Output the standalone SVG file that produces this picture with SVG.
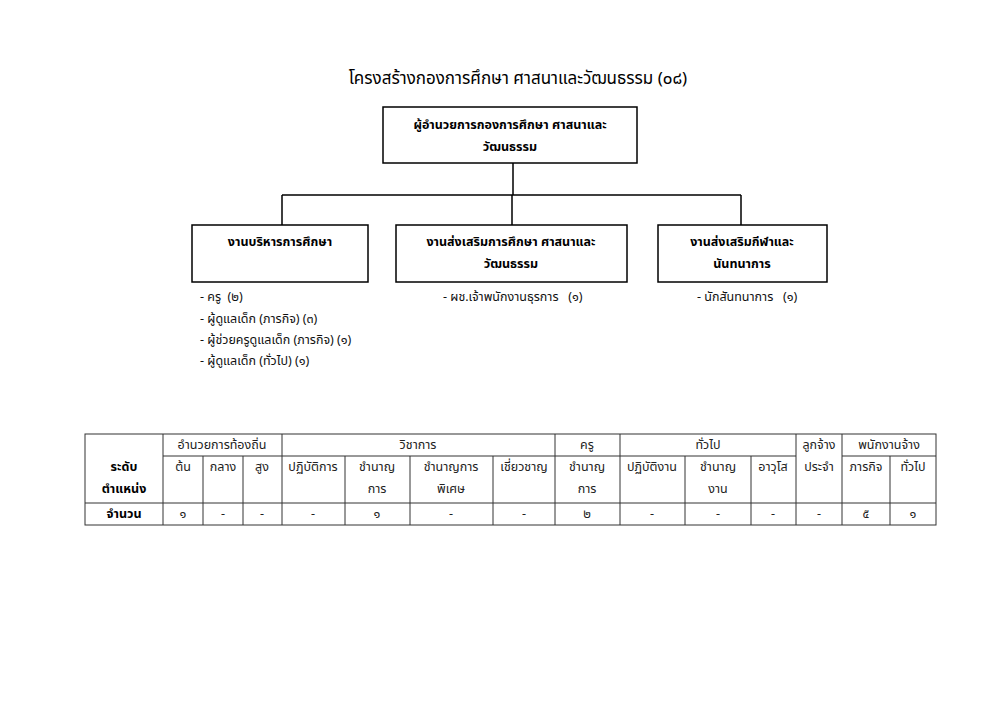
<svg xmlns="http://www.w3.org/2000/svg" width="1000" height="707" viewBox="0 0 1000 707">
<style>
text{font-family:"Noto Sans Thai","Noto Sans","DejaVu Sans",sans-serif;fill:#000}
.title{font-size:17px}
.bx{fill:#fff;stroke:#000;stroke-width:1.5}
.bt{font-size:12.5px;font-weight:bold;text-anchor:middle}
.li{font-size:12.5px;fill:#111}
.cn{stroke:#000;stroke-width:1.5;fill:none}
.tl{stroke:#333;stroke-width:1;fill:none}
.th{font-size:12.5px;text-anchor:middle;fill:#222}
.tb{font-size:12.5px;text-anchor:middle;font-weight:bold}
</style>
<rect width="1000" height="707" fill="#fff"/>
<text class="title" x="518" y="84" text-anchor="middle">โครงสร้างกองการศึกษา ศาสนาและวัฒนธรรม (๐๘)</text>

<g id="connectors">
<path class="cn" d="M513 163V195M282 195H741M282 195V225M512 195V225M741 195V225"/>
</g>

<g id="director">
<rect class="bx" x="383" y="107" width="254" height="56"/>
<text class="bt" x="510" y="129">ผู้อำนวยการกองการศึกษา ศาสนาและ</text>
<text class="bt" x="510" y="151">วัฒนธรรม</text>
</g>

<g id="admin">
<rect class="bx" x="192" y="225" width="176" height="57"/>
<text class="bt" x="280" y="246">งานบริหารการศึกษา</text>
</g>

<g id="promo-edu">
<rect class="bx" x="396" y="225" width="231" height="57"/>
<text class="bt" x="511" y="246">งานส่งเสริมการศึกษา ศาสนาและ</text>
<text class="bt" x="511" y="268">วัฒนธรรม</text>
</g>

<g id="promo-sport">
<rect class="bx" x="658" y="225" width="169" height="57"/>
<text class="bt" x="742" y="246">งานส่งเสริมกีฬาและ</text>
<text class="bt" x="742" y="268">นันทนาการ</text>
</g>

<g id="admin-staff">
<text class="li" x="200" y="301">- ครู&#160;&#160;(๒)</text>
<text class="li" x="200" y="323">- ผู้ดูแลเด็ก (ภารกิจ) (๓)</text>
<text class="li" x="200" y="344">- ผู้ช่วยครูดูแลเด็ก (ภารกิจ) (๑)</text>
<text class="li" x="200" y="365">- ผู้ดูแลเด็ก (ทั่วไป) (๑)</text>
</g>
<g id="promo-edu-staff">
<text class="li" x="443" y="301">- ผช.เจ้าพนักงานธุรการ&#160;&#160;&#160;(๑)</text>
</g>
<g id="promo-sport-staff">
<text class="li" x="697" y="301">- นักสันทนาการ&#160;&#160;&#160;(๑)</text>
</g>

<g id="table">
<rect class="tl" x="85" y="434" width="851" height="91"/>
<path class="tl" d="M163 456H796M842 456H936M85 503H936"/>
<path class="tl" d="M163 434V525M282 434V525M555 434V525M620 434V525M796 434V525M842 434V525"/>
<path class="tl" d="M203 456V525M243 456V525M345 456V525M410 456V525M493 456V525M685 456V525M751 456V525M890 456V525"/>
<text class="tb" x="124" y="471">ระดับ</text>
<text class="tb" x="124" y="493">ตำแหน่ง</text>
<text class="tb" x="124" y="518">จำนวน</text>
<text class="th" x="222" y="449">อำนวยการท้องถิ่น</text>
<text class="th" x="418" y="449">วิชาการ</text>
<text class="th" x="587" y="449">ครู</text>
<text class="th" x="708" y="449">ทั่วไป</text>
<text class="th" x="819" y="449">ลูกจ้าง</text>
<text class="th" x="889" y="449">พนักงานจ้าง</text>
<text class="th" x="183" y="471">ต้น</text>
<text class="th" x="223" y="471">กลาง</text>
<text class="th" x="262" y="471">สูง</text>
<text class="th" x="313" y="471">ปฏิบัติการ</text>
<text class="th" x="377" y="471">ชำนาญ</text>
<text class="th" x="377" y="493">การ</text>
<text class="th" x="451" y="471">ชำนาญการ</text>
<text class="th" x="451" y="493">พิเศษ</text>
<text class="th" x="524" y="471">เชี่ยวชาญ</text>
<text class="th" x="587" y="471">ชำนาญ</text>
<text class="th" x="587" y="493">การ</text>
<text class="th" x="652" y="471">ปฏิบัติงาน</text>
<text class="th" x="718" y="471">ชำนาญ</text>
<text class="th" x="718" y="493">งาน</text>
<text class="th" x="773" y="471">อาวุโส</text>
<text class="th" x="819" y="471">ประจำ</text>
<text class="th" x="866" y="471">ภารกิจ</text>
<text class="th" x="913" y="471">ทั่วไป</text>
<text class="th" x="183" y="518">๑</text>
<text class="th" x="223" y="518">-</text>
<text class="th" x="262" y="518">-</text>
<text class="th" x="313" y="518">-</text>
<text class="th" x="377" y="518">๑</text>
<text class="th" x="451" y="518">-</text>
<text class="th" x="524" y="518">-</text>
<text class="th" x="587" y="518">๒</text>
<text class="th" x="652" y="518">-</text>
<text class="th" x="718" y="518">-</text>
<text class="th" x="773" y="518">-</text>
<text class="th" x="819" y="518">-</text>
<text class="th" x="866" y="518">๕</text>
<text class="th" x="913" y="518">๑</text>
</g>
</svg>
